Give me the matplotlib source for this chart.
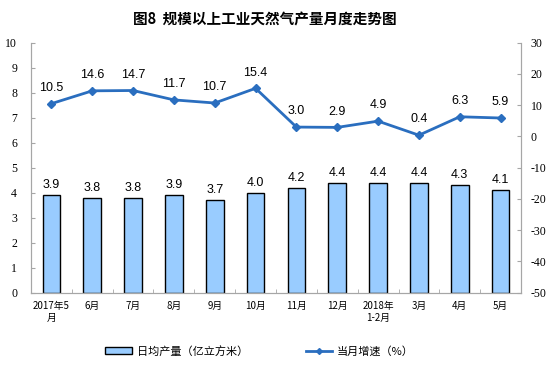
import matplotlib
matplotlib.use("Agg")
import matplotlib.pyplot as plt
import numpy as np
from matplotlib.patches import Patch
from matplotlib.lines import Line2D

plt.rcParams['font.family'] = ['Noto Sans CJK SC', 'DejaVu Sans']
plt.rcParams['axes.unicode_minus'] = False

months = ['2017年5\n月', '6月', '7月', '8月', '9月', '10月', '11月', '12月',
          '2018年\n1-2月', '3月', '4月', '5月']
daily_output = [3.9, 3.8, 3.8, 3.9, 3.7, 4.0, 4.2, 4.4, 4.4, 4.4, 4.3, 4.1]
growth = [10.5, 14.6, 14.7, 11.7, 10.7, 15.4, 3.0, 2.9, 4.9, 0.4, 6.3, 5.9]

bar_color = '#99ccff'
line_color = '#2a6ebf'
axis_gray = '#a6a6a6'

fig = plt.figure(figsize=(5.58, 3.84), dpi=100)
ax = fig.add_axes([31/558, 1-292.7/384, 490/558, 250/384])
ax2 = ax.twinx()

x = np.arange(len(months))
ax.bar(x, daily_output, width=0.43, color=bar_color, edgecolor='black', linewidth=1.0, zorder=2)
ax2.plot(x, growth, color=line_color, lw=2, marker='D', ms=4, zorder=3)

for xi, v in zip(x, daily_output):
    ax.annotate(f'{v:.1f}', (xi, v), xytext=(0, 3), textcoords='offset points',
                ha='center', va='bottom', fontsize=9, family='Liberation Sans')
for xi, v in zip(x, growth):
    ax2.annotate(f'{v:.1f}', (xi, v), xytext=(0, 7), textcoords='offset points',
                 ha='center', va='bottom', fontsize=9, family='Liberation Sans')

ax.set_xlim(-0.5, len(months) - 0.5)
ax.set_ylim(0, 10)
ax.set_yticks(range(0, 11))
ax2.set_ylim(-50, 30)
ax2.set_yticks(range(-50, 31, 10))

ax.set_xticks(x)
ax.set_xticklabels(months, fontsize=7, linespacing=1.3)
ax.set_xticks(np.arange(-0.5, len(months), 1), minor=True)
ax.tick_params(axis='x', which='major', length=0, pad=6)
ax.tick_params(axis='x', which='minor', length=3, direction='in', color=axis_gray)
ax.tick_params(axis='y', length=3, direction='in', color=axis_gray, labelsize=8.5, pad=10)
ax2.tick_params(axis='y', length=3, direction='in', color=axis_gray, labelsize=8.5, pad=7)
for lab in ax.get_yticklabels() + ax2.get_yticklabels():
    lab.set_family('Liberation Serif')

for a in (ax, ax2):
    a.spines['top'].set_visible(False)
    for s in ('left', 'right', 'bottom'):
        a.spines[s].set_color(axis_gray)

fig.text(265/558, 1-19/384, '图8  规模以上工业天然气产量月度走势图', ha='center', va='center',
         fontsize=10.5, fontweight='bold')

handles = [Patch(facecolor=bar_color, edgecolor='black', linewidth=1.0),
           Line2D([], [], color=line_color, lw=2, marker='D', ms=3)]
fig.legend(handles, ['日均产量（亿立方米）', '当月增速（%）'], loc='center',
           bbox_to_anchor=(0.465, 1-351/384), ncol=2, frameon=False, fontsize=8,
           handlelength=2.4, handleheight=0.6, columnspacing=5.2, handletextpad=0.4)

fig.savefig('out.png', dpi=100)
